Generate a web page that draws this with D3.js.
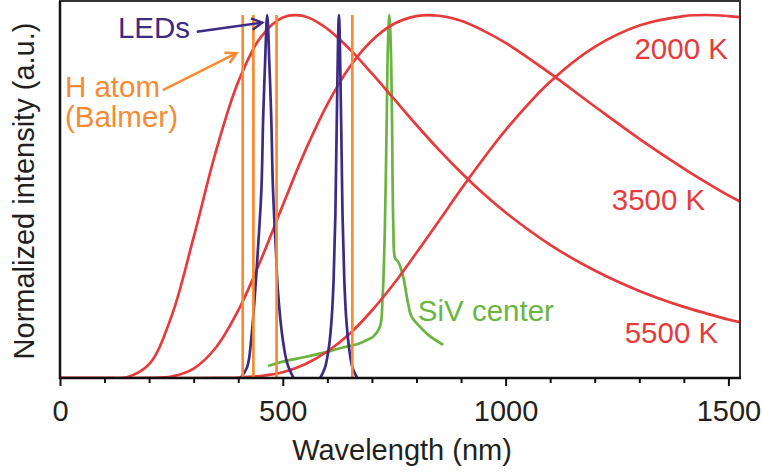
<!DOCTYPE html>
<html>
<head>
<meta charset="utf-8">
<script src="https://cdn.jsdelivr.net/npm/d3@7"></script>
<style>
  body { margin: 0; background: #fff; }
  text { font-family: "Liberation Sans", Arial, sans-serif; }
</style>
</head>
<body>
<svg id="chart" width="762" height="472"></svg>
<script>
// blackbody curves, normalized
var wavelengths = [0, 100, 150, 200, 250, 300, 350, 400, 450, 500, 550, 600, 650, 700, 750, 800, 850, 900, 950, 1000, 1100, 1200, 1300, 1400, 1450, 1500, 1526];
var bb5500 = [0, 0, 0.002, 0.038, 0.169, 0.388, 0.625, 0.816, 0.938, 0.993, 0.996, 0.962, 0.906, 0.839, 0.768, 0.697, 0.629, 0.566, 0.508, 0.456, 0.367, 0.296, 0.240, 0.196, 0.178, 0.161, 0.154];
var bb3500 = [0, 0, 0, 0.0002, 0.004, 0.026, 0.084, 0.186, 0.323, 0.476, 0.625, 0.754, 0.857, 0.930, 0.976, 0.997, 0.998, 0.984, 0.957, 0.923, 0.839, 0.748, 0.659, 0.577, 0.539, 0.503, 0.486];
var bb2000 = [0, 0, 0, 0, 0, 0, 0.0002, 0.0014, 0.0056, 0.016, 0.038, 0.073, 0.122, 0.186, 0.261, 0.345, 0.432, 0.520, 0.604, 0.683, 0.816, 0.912, 0.971, 0.997, 1.0, 0.997, 0.994];

// LED emission
var ledBlueWl = [405, 420, 429, 438, 445, 452, 456, 460, 465, 470, 474, 478, 485, 489, 500, 510, 524];
var ledBlueVal = [0, 0.03, 0.105, 0.24, 0.37, 0.52, 0.72, 0.86, 1.0, 0.86, 0.72, 0.52, 0.34, 0.24, 0.105, 0.04, 0];
var ledRedWl = [584, 595, 604, 610, 614, 618, 621, 626, 631, 634, 638, 642, 648, 656, 667];
var ledRedVal = [0, 0.03, 0.09, 0.17, 0.27, 0.45, 0.7, 1.0, 0.7, 0.45, 0.27, 0.17, 0.09, 0.03, 0];

// SiV center photoluminescence
var sivWl = [467, 500, 550, 599, 628, 673, 696, 703, 718, 724, 729, 733, 736, 739, 742, 745, 748, 752, 759, 770, 781, 789, 808, 827, 860];
var sivVal = [0.033, 0.045, 0.058, 0.072, 0.082, 0.096, 0.109, 0.114, 0.141, 0.224, 0.41, 0.7, 0.92, 1.0, 0.93, 0.72, 0.42, 0.33, 0.32, 0.28, 0.206, 0.169, 0.141, 0.118, 0.091];

// hydrogen Balmer lines (nm)
var balmerLines = [410, 434, 486, 656];

var majorTicks = [0, 500, 1000, 1500];
var minorTicks = [100, 200, 300, 400, 600, 700, 800, 900, 1100, 1200, 1300, 1400];

var red = "#e63a3c", orange = "#f68b33", purple = "#3c2a84", green = "#6bb440", ink = "#231f20";

var svg = d3.select("#chart");
var x = d3.scaleLinear().domain([0, 1526]).range([60, 740]);
var y = d3.scaleLinear().domain([0, 1]).range([378, 15]);

svg.append("clipPath").attr("id", "plotclip")
    .append("rect").attr("x", 60).attr("y", 1).attr("width", 680).attr("height", 377);

var plot = svg.append("g").attr("clip-path", "url(#plotclip)");

var line = d3.line()
    .x(function (d) { return x(d[0]); })
    .y(function (d) { return y(d[1]); })
    .curve(d3.curveCatmullRom.alpha(0.5));

function pairs(xs, ys) {
    return xs.map(function (v, i) { return [v, ys[i]]; });
}

plot.append("path").datum(pairs(sivWl, sivVal))
    .attr("d", line).attr("fill", "none").attr("stroke", green).attr("stroke-width", 2.7);

[bb5500, bb3500, bb2000].forEach(function (vals) {
    plot.append("path").datum(pairs(wavelengths, vals))
        .attr("d", line).attr("fill", "none").attr("stroke", red).attr("stroke-width", 2.7);
});

[[ledBlueWl, ledBlueVal], [ledRedWl, ledRedVal]].forEach(function (s) {
    plot.append("path").datum(pairs(s[0], s[1]))
        .attr("d", line).attr("fill", "none").attr("stroke", purple).attr("stroke-width", 2.7);
});

plot.selectAll("line.balmer")
    .data(balmerLines)
    .enter()
    .append("line")
    .attr("class", "balmer")
    .attr("x1", function (d) { return x(d); })
    .attr("x2", function (d) { return x(d); })
    .attr("y1", y(0))
    .attr("y2", y(1))
    .attr("stroke", orange)
    .attr("stroke-width", 2.7);

// frame
svg.append("rect").attr("x", 60).attr("y", 1).attr("width", 680).attr("height", 377)
    .attr("fill", "none").attr("stroke", "#333").attr("stroke-width", 2);
svg.append("line").attr("x1", 60).attr("x2", 60).attr("y1", 1).attr("y2", 379)
    .attr("stroke", "#111").attr("stroke-width", 2.5);

// x axis
var gx = svg.append("g").attr("transform", "translate(0,378)");
gx.call(d3.axisBottom(x).tickValues(majorTicks).tickSize(8).tickPadding(14).tickFormat(d3.format("d")));
gx.append("g").call(d3.axisBottom(x).tickValues(minorTicks).tickSize(5).tickFormat(""));
gx.selectAll(".domain").remove();
gx.selectAll("line").attr("stroke", "#111").attr("stroke-width", 2);
gx.selectAll("text").attr("font-size", 29).attr("fill", ink)
    .attr("font-family", "Liberation Sans, Arial, sans-serif");
gx.append("line").attr("x1", 59).attr("x2", 741).attr("y1", 0).attr("y2", 0)
    .attr("stroke", "#111").attr("stroke-width", 2.5);

svg.append("text").attr("x", 402).attr("y", 460).attr("text-anchor", "middle")
    .attr("font-size", 29).attr("fill", ink).text("Wavelength (nm)");
svg.append("text").attr("transform", "rotate(-90)").attr("x", -191).attr("y", 34)
    .attr("text-anchor", "middle").attr("font-size", 29).attr("fill", ink)
    .text("Normalized intensity (a.u.)");

// labels (anchored in data coordinates)
function label(txt, wl, v, color, anchor) {
    svg.append("text").attr("x", x(wl)).attr("y", y(v))
        .attr("text-anchor", anchor || "start")
        .attr("font-size", 29.5).attr("fill", color).text(txt);
}
label("LEDs", 130, 0.937, purple);
label("H atom", 11, 0.774, orange);
label("(Balmer)", 11, 0.691, orange);
label("2000 K", 1499, 0.879, red, "end");
label("3500 K", 1448, 0.463, red, "end");
label("5500 K", 1477, 0.096, red, "end");
label("SiV center", 803, 0.157, green);

// annotation arrows
function arrow(from, to, color) {
    var x0 = x(from[0]), y0 = y(from[1]), x1 = x(to[0]), y1 = y(to[1]);
    var ang = Math.atan2(y1 - y0, x1 - x0), len = 12, spread = 0.5;
    svg.append("line").attr("x1", x0).attr("y1", y0).attr("x2", x1).attr("y2", y1)
        .attr("stroke", color).attr("stroke-width", 2.5);
    var p = d3.path();
    p.moveTo(x1 - len * Math.cos(ang - spread), y1 - len * Math.sin(ang - spread));
    p.lineTo(x1, y1);
    p.lineTo(x1 - len * Math.cos(ang + spread), y1 - len * Math.sin(ang + spread));
    svg.append("path").attr("d", p.toString()).attr("fill", "none")
        .attr("stroke", color).attr("stroke-width", 2.5).attr("stroke-linejoin", "miter");
}
arrow([307, 0.954], [454, 0.979], purple);
arrow([231, 0.793], [396, 0.895], orange);
</script>
</body>
</html>
